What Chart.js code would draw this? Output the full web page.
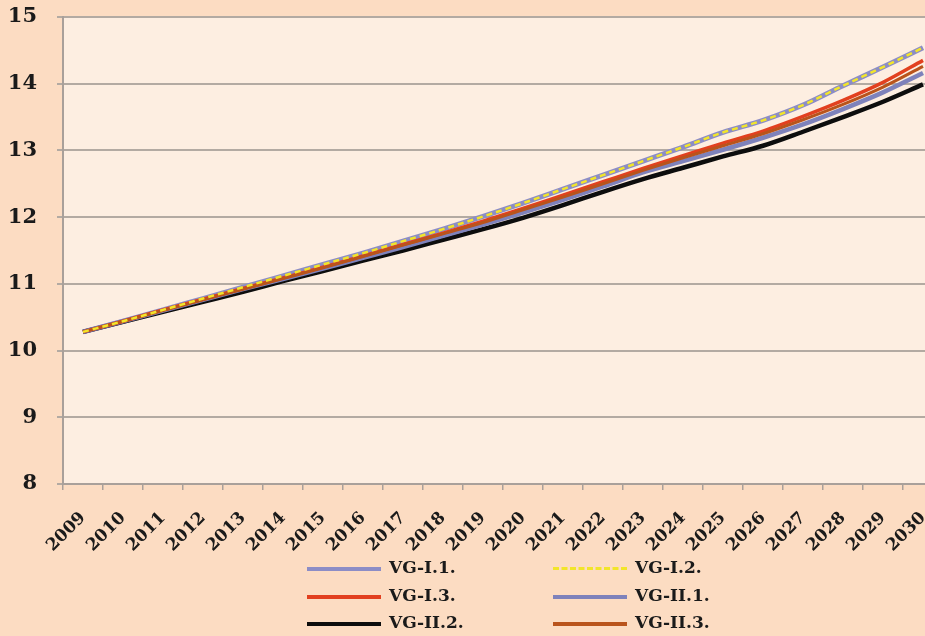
<!DOCTYPE html>
<html>
<head>
<meta charset="UTF-8" />
<title>VG scenarios 2009-2030</title>
<style>
html, body { margin: 0; padding: 0; overflow: hidden; background: #fcdcc2; }
#wrap { position: relative; width: 925px; height: 636px; overflow: hidden; }
#chart { position: absolute; left: 0; top: 0; }
.leg { position: absolute; font: bold 17px "DejaVu Serif", serif; color: #1a1a1a; white-space: nowrap; }
.leg span.ln { display: inline-block; width: 74px; height: 0; vertical-align: middle; margin-right: 8px; }
</style>
<script src="https://cdn.jsdelivr.net/npm/chart.js"></script>
</head>
<body>
<div id="wrap">
	<canvas id="chart" width="945" height="636"></canvas>
	<div id="legend"></div>
</div>
<script>
var years = ["2009","2010","2011","2012","2013","2014","2015","2016","2017","2018","2019",
	"2020","2021","2022","2023","2024","2025","2026","2027","2028","2029","2030"];
var yTicks = [8, 9, 10, 11, 12, 13, 14, 15];

// values
var vgI1  = [10.28,10.44,10.61,10.78,10.95,11.12,11.29,11.46,11.64,11.82,12.01,12.21,12.42,12.63,12.84,13.05,13.27,13.45,13.68,13.97,14.25,14.54];
var vgI2  = [10.28,10.44,10.61,10.78,10.95,11.12,11.29,11.46,11.64,11.82,12.01,12.21,12.42,12.63,12.84,13.05,13.27,13.45,13.68,13.97,14.25,14.54];
var vgI3  = [10.28,10.44,10.61,10.77,10.93,11.09,11.25,11.42,11.59,11.76,11.94,12.13,12.33,12.53,12.73,12.92,13.11,13.29,13.51,13.75,14.02,14.35];
var vgII1 = [10.28,10.44,10.60,10.76,10.92,11.07,11.23,11.39,11.55,11.72,11.89,12.07,12.26,12.46,12.67,12.84,13.01,13.19,13.39,13.62,13.87,14.16];
var vgII2 = [10.28,10.43,10.58,10.73,10.88,11.04,11.19,11.35,11.50,11.66,11.82,11.99,12.18,12.38,12.57,12.74,12.91,13.07,13.28,13.50,13.73,13.99];
var vgII3 = [10.28,10.44,10.60,10.76,10.92,11.08,11.24,11.41,11.58,11.75,11.92,12.11,12.30,12.50,12.70,12.89,13.07,13.25,13.46,13.69,13.95,14.26];

var names = ["VG-I.1.", "VG-I.2.", "VG-I.3.", "VG-II.1.", "VG-II.2.", "VG-II.3."];
var series = [vgI1, vgI2, vgI3, vgII1, vgII2, vgII3];
var colors = ["#8c8dc6", "#f2e52a", "#e2401f", "#7e82bb", "#0d0d0d", "#b9541c"];
var widths = [5, 2.5, 3.5, 4.5, 4.5, 3];
var dashes = [[], [6, 4], [], [], [], []];
var drawOrder = [5, 0, 2, 3, 4, 1]; // lower number ends on top

var datasets = [];
for (var i = 0; i < series.length; i++) {
	datasets.push({
		label: names[i],
		data: series[i],
		borderColor: colors[i],
		backgroundColor: colors[i],
		borderWidth: widths[i],
		borderDash: dashes[i],
		pointRadius: 0,
		cubicInterpolationMode: 'monotone',
		fill: false,
		order: drawOrder[i]
	});
}

var plotBg = {
	id: 'plotBg',
	beforeDraw: function(chart) {
		var a = chart.chartArea, ctx = chart.ctx;
		ctx.save();
		ctx.fillStyle = '#fdeee1';
		ctx.fillRect(a.left, a.top, a.right - a.left, a.bottom - a.top);
		ctx.restore();
	}
};

var tickFont = { family: 'DejaVu Serif', weight: 'bold' };

new Chart(document.getElementById('chart'), {
	type: 'line',
	data: { labels: years, datasets: datasets },
	options: {
		responsive: false,
		animation: false,
		layout: { padding: { top: 17, right: 2, left: 0, bottom: 0 } },
		plugins: { legend: { display: false }, tooltip: { enabled: false } },
		scales: {
			x: {
				offset: true,
				grid: { display: true, drawOnChartArea: false, drawTicks: true, tickLength: 6, color: '#a9a09a', lineWidth: 1.5, offset: true },
				border: { color: '#a9a09a', width: 2 },
				ticks: { color: '#1a1a1a', font: Object.assign({ size: 17 }, tickFont), minRotation: 45, maxRotation: 45, padding: 18, autoSkip: false },
				afterFit: function(s) { s.height = 152; s.paddingLeft = 0; s.paddingRight = 0; }
			},
			y: {
				min: 8, max: 15,
				afterBuildTicks: function(s) { s.ticks = yTicks.map(function(v) { return { value: v }; }); },
				grid: { color: '#b3aaa2', lineWidth: 2, tickLength: 6 },
				border: { color: '#a9a09a', width: 2 },
				ticks: { color: '#1a1a1a', font: Object.assign({ size: 21 }, tickFont), padding: 20 },
				afterFit: function(s) { s.width = 63; s.paddingTop = 0; s.paddingBottom = 0; }
			}
		}
	},
	plugins: [plotBg]
});

// legend: two columns, three rows
var legendPos = [[307, 568], [553, 568], [307, 596], [553, 596], [307, 623], [553, 623]];
var legendHtml = "";
for (var k = 0; k < names.length; k++) {
	var style = dashes[k].length ? 'border-top: 3px dashed ' + colors[k] : 'border-top: 4px solid ' + colors[k];
	legendHtml += '<div class="leg" style="left:' + legendPos[k][0] + 'px;top:' + (legendPos[k][1] - 11) + 'px">' +
		'<span class="ln" style="' + style + '"></span>' + names[k] + '</div>';
}
document.getElementById('legend').innerHTML = legendHtml;
</script>
</body>
</html>
